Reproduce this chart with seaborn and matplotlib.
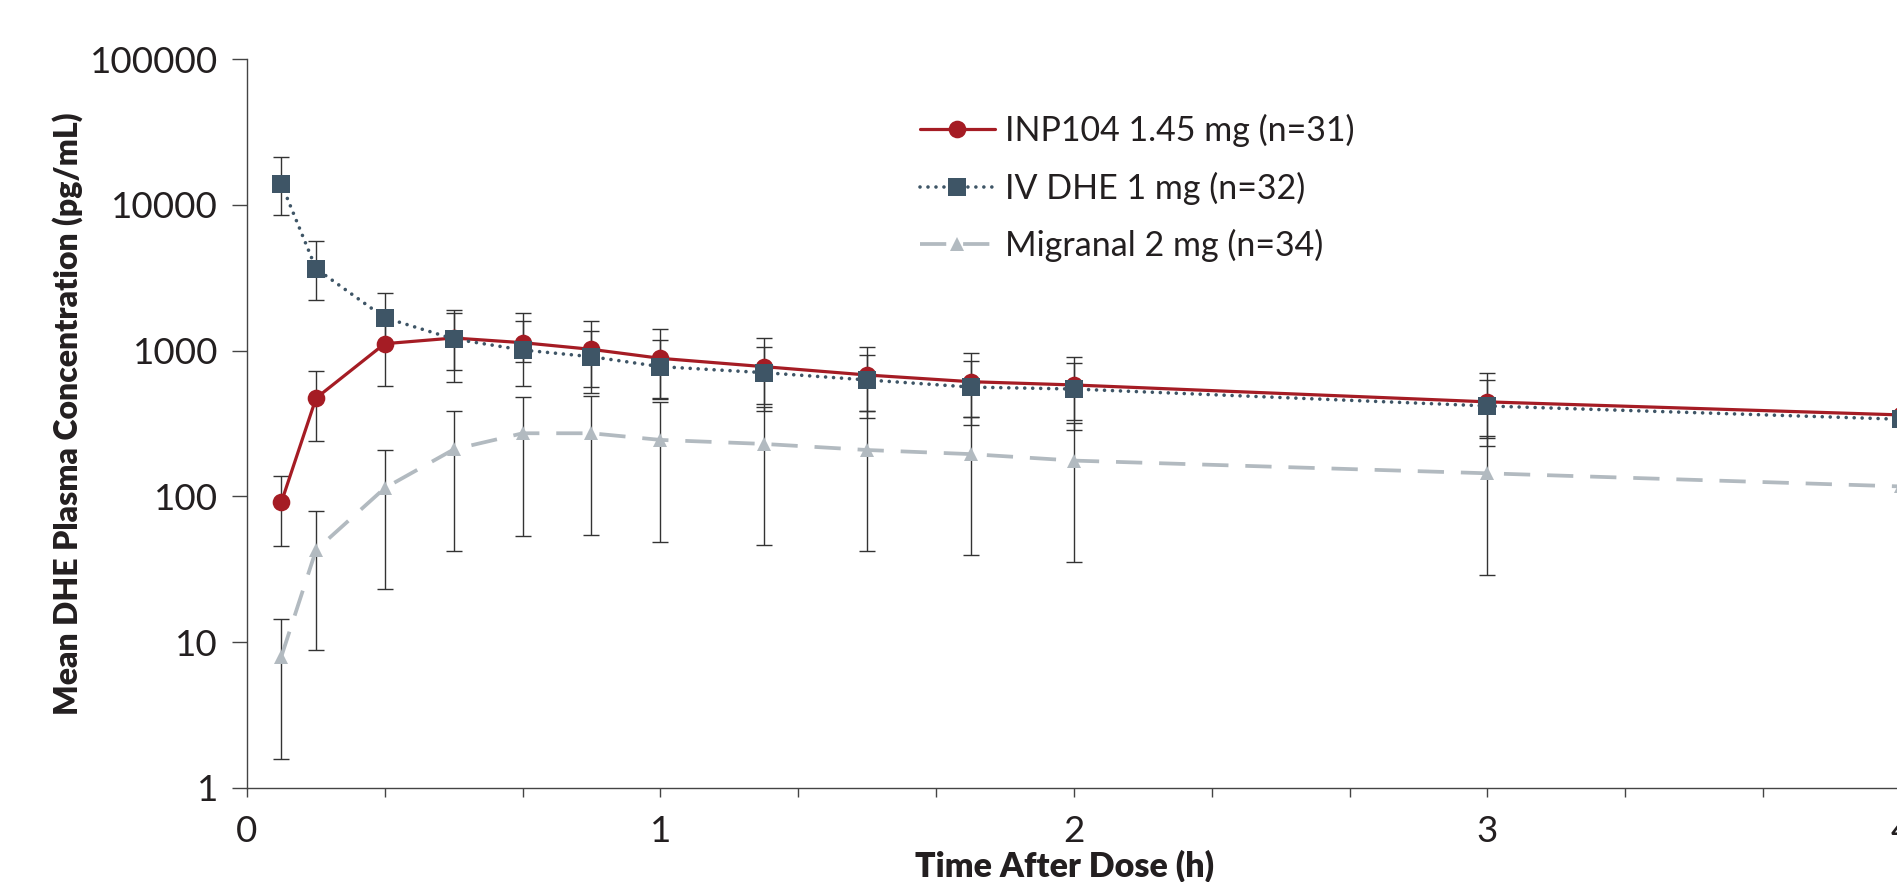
import matplotlib
matplotlib.use("Agg")
import matplotlib.pyplot as plt
import matplotlib.ticker as mticker
import seaborn as sns
import pandas as pd

# Mean DHE plasma concentration (pg/mL) with error bar limits
time_h = [0.083, 0.167, 0.333, 0.5, 0.667, 0.833, 1, 1.25, 1.5, 1.75, 2, 3, 4]

inp104_mean = [91, 472, 1115, 1220, 1133, 1020, 885, 776, 680, 612, 581, 445, 362]
inp104_upper = [139, 724, 1650, 1811, 1820, 1603, 1413, 1220, 1059, 968, 899, 699, 560]
inp104_lower = [46, 241, 569, 610, 572, 560, 471, 430, 387, 352, 334, 253, 210]

iv_mean = [13960, 3647, 1682, 1202, 1009, 908, 776, 706, 629, 562, 545, 417, 338]
iv_upper = [21380, 5610, 2495, 1909, 1597, 1370, 1189, 1064, 929, 849, 822, 626, 510]
iv_lower = [8510, 2234, 1150, 736, 839, 509, 465, 385, 343, 309, 285, 222, 190]

migranal_mean = [7.96, 42.9, 114, 210, 271, 271, 244, 229, 208, 195, 176, 144, 117]
migranal_upper = [14.4, 79, 209, 384, 483, 488, 442, 408, 385, 350, 320, 261, 210]
migranal_lower = [1.59, 8.85, 23.2, 42.4, 53.7, 54.4, 48.9, 46.2, 42.4, 39.5, 35.3, 29.1, 23]

labels = ["INP104 1.45 mg (n=31)", "IV DHE 1 mg (n=32)", "Migranal 2 mg (n=34)"]
x_ticks = [0, 1, 2, 3, 4]
x_minor = [1/3, 2/3, 4/3, 5/3, 7/3, 8/3, 10/3, 11/3]
y_ticks = [1, 10, 100, 1000, 10000, 100000]

RED = "#A51C24"
SLATE = "#3E5566"
GREY = "#B2BAC0"
INK = "#231F20"

sns.set_theme(style="ticks")
plt.rcParams["font.family"] = ["Lato", "DejaVu Sans"]

fig = plt.figure(figsize=(18.97, 8.82), dpi=100)
ax = fig.add_axes([0.1302, 0.1066, 0.8719, 0.8265])

df_mig = pd.DataFrame({"t": time_h, "c": migranal_mean})
df_inp = pd.DataFrame({"t": time_h, "c": inp104_mean})
df_iv = pd.DataFrame({"t": time_h, "c": iv_mean})

# error bars first, behind the lines (the 4 h bars sit outside the crop)
for mean, lo, hi in [(migranal_mean, migranal_lower, migranal_upper),
                     (inp104_mean, inp104_lower, inp104_upper),
                     (iv_mean, iv_lower, iv_upper)]:
    yerr = [[m - l for m, l in zip(mean, lo)][:-1], [h - m for m, h in zip(mean, hi)][:-1]]
    ax.errorbar(time_h[:-1], mean[:-1], yerr=yerr, fmt="none", ecolor="#333333",
                elinewidth=1.0, capsize=6, capthick=1.0, zorder=1.5)

sns.lineplot(data=df_mig, x="t", y="c", ax=ax, color=GREY, linewidth=2.7,
             linestyle=(0, (7, 4.5)), marker="^", markersize=10,
             markeredgewidth=0, label=labels[2], zorder=2)
sns.lineplot(data=df_inp, x="t", y="c", ax=ax, color=RED, linewidth=2.3,
             marker="o", markersize=12.7, markeredgewidth=0,
             label=labels[0], zorder=3)
sns.lineplot(data=df_iv, x="t", y="c", ax=ax, color=SLATE, linewidth=2.6,
             linestyle=(0, (0.01, 2.2)), dash_capstyle="round", marker="s",
             markersize=13, markeredgewidth=0, label=labels[1], zorder=4)

ax.set_yscale("log")
ax.set_ylim(1, 100000)
ax.set_xlim(0, 4)
ax.yaxis.set_major_locator(mticker.FixedLocator(y_ticks))
ax.yaxis.set_minor_locator(mticker.NullLocator())
ax.yaxis.set_major_formatter(mticker.FuncFormatter(lambda v, p: f"{int(round(v))}"))
ax.xaxis.set_major_locator(mticker.FixedLocator(x_ticks))
ax.xaxis.set_minor_locator(mticker.FixedLocator(x_minor))

for side in ["top", "right"]:
    ax.spines[side].set_visible(False)
for side in ["left", "bottom"]:
    ax.spines[side].set_color("#444444")
    ax.spines[side].set_linewidth(1.0)

ax.tick_params(axis="y", which="major", length=10.8, width=1.0, color="#444444",
               pad=10, labelsize=26.5, labelcolor=INK)
ax.tick_params(axis="x", which="both", length=6.5, width=1.0, color="#444444",
               pad=13, labelsize=26.5, labelcolor=INK)

ax.set_xlabel("Time After Dose (h)", fontsize=24.5, fontweight="heavy", color=INK)
ax.set_ylabel("Mean DHE Plasma Concentration (pg/mL)", fontsize=23,
              fontweight="heavy", color=INK)
ax.xaxis.set_label_coords(0.4946, -0.084)
ax.yaxis.set_label_coords(-0.099, 0.514)

handles, labs = ax.get_legend_handles_labels()
order = [labs.index(l) for l in labels]
leg = ax.legend([handles[i] for i in order], [labs[i] for i in order],
                loc="center left", bbox_to_anchor=(903 / 1897, 1 - 188 / 882),
                bbox_transform=fig.transFigure, frameon=False, borderpad=0,
                handlelength=2.2, handletextpad=0.3, labelspacing=0.72,
                prop={"size": 24.5})
for t in leg.get_texts():
    t.set_color(INK)

fig.savefig("out.png", dpi=100)
